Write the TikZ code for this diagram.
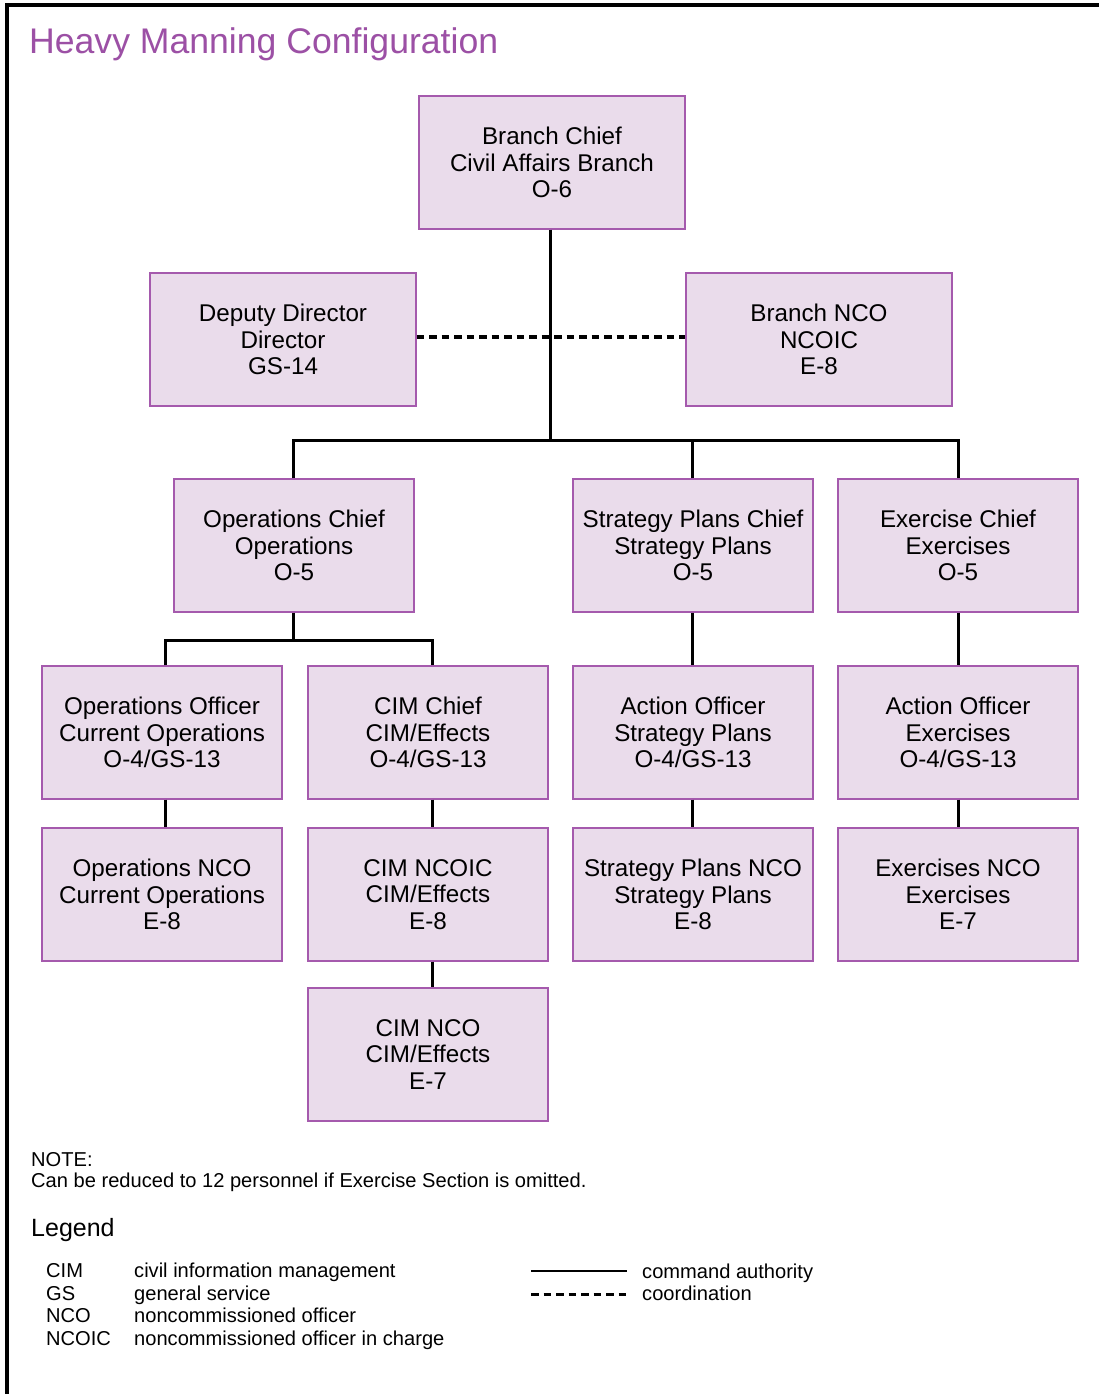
\documentclass[tikz,border=0pt]{standalone}
\usepackage{fontspec}
\setmainfont{Liberation Sans}
\definecolor{boxfill}{HTML}{EADCEB}
\definecolor{boxline}{HTML}{A55AAD}
\definecolor{titlecol}{HTML}{9C50A5}
\begin{document}
\begin{tikzpicture}[x=1pt,y=-1pt,
  orgbox/.style={draw=boxline, fill=boxfill, line width=1.3pt, minimum height=133pt,
    inner sep=0pt, align=center, font=\fontsize{24.2}{26.5}\selectfont},
  widebox/.style={orgbox, minimum width=266pt},
  stdbox/.style={orgbox, minimum width=240pt},
  cmd/.style={line width=3pt},
  coord/.style={line width=3.3pt, dash pattern=on 7.5pt off 5pt},
  txt/.style={anchor=base west, inner sep=0pt, font=\fontsize{20.1}{24}\selectfont}]
\useasboundingbox (0,0) rectangle (1099,1394);
\fill[white] (0,0) rectangle (1099,1394);
% frame
\draw[line width=3.5pt] (7,1394) -- (7,5) -- (1099,5);
% title
\node[anchor=base west, inner sep=0pt, text=titlecol, font=\fontsize{35.6}{40}\selectfont] (title) at (29,53.5) {Heavy Manning Configuration};
% boxes
\node[widebox] (bc) at (552,162.5) {Branch Chief\\Civil Affairs Branch\\O-6};
\node[widebox] (dd) at (283,339.5) {Deputy Director\\Director\\GS-14};
\node[widebox] (bn) at (819,339.5) {Branch NCO\\NCOIC\\E-8};
\node[stdbox] (oc) at (294,545.5) {Operations Chief\\Operations\\O-5};
\node[stdbox] (sc) at (693,545.5) {Strategy Plans Chief\\Strategy Plans\\O-5};
\node[stdbox] (ec) at (958,545.5) {Exercise Chief\\Exercises\\O-5};
\node[stdbox] (oo) at (162,732.5) {Operations Officer\\Current Operations\\O-4/GS-13};
\node[stdbox] (cc) at (428,732.5) {CIM Chief\\CIM/Effects\\O-4/GS-13};
\node[stdbox] (as) at (693,732.5) {Action Officer\\Strategy Plans\\O-4/GS-13};
\node[stdbox] (ae) at (958,732.5) {Action Officer\\Exercises\\O-4/GS-13};
\node[stdbox] (on) at (162,894.5) {Operations NCO\\Current Operations\\E-8};
\node[stdbox] (ci) at (428,894.5) {CIM NCOIC\\CIM/Effects\\E-8};
\node[stdbox] (sn) at (693,894.5) {Strategy Plans NCO\\Strategy Plans\\E-8};
\node[stdbox] (en) at (958,894.5) {Exercises NCO\\Exercises\\E-7};
\node[stdbox] (cn) at (428,1054.5) {CIM NCO\\CIM/Effects\\E-7};
% connectors
\coordinate (bus) at (0,440);
\coordinate (obus) at (0,640);
\draw[coord] ([yshift=2.5pt]dd.east) -- ([yshift=2.5pt]bn.west);
\draw[cmd] ([xshift=-2pt]bc.south) -- ([xshift=-2pt]bc.south |- bus);
\draw[cmd] ([xshift=-1pt]oc.north) |- (ec.north |- bus) -- (ec.north);
\draw[cmd] ([xshift=-1pt]sc.north) -- ([xshift=-1pt]sc.north |- bus);
\draw[cmd] ([xshift=-1pt]oc.south) -- ([xshift=-1pt]oc.south |- obus);
\draw[cmd] ([xshift=3pt]oo.north) |- ([xshift=4pt]cc.north |- obus) -- ([xshift=4pt]cc.north);
\draw[cmd] ([xshift=-1pt]sc.south) -- ([xshift=-1pt]as.north);
\draw[cmd] (ec.south) -- (ae.north);
\draw[cmd] ([xshift=3pt]oo.south) -- ([xshift=3pt]on.north);
\draw[cmd] ([xshift=4pt]cc.south) -- ([xshift=4pt]ci.north);
\draw[cmd] ([xshift=-1pt]as.south) -- ([xshift=-1pt]sn.north);
\draw[cmd] (ae.south) -- (en.north);
\draw[cmd] ([xshift=4pt]ci.south) -- ([xshift=4pt]cn.north);
% note
\node[txt] (note) at (31,1166.5) {NOTE:};
\node[txt] (notetext) at (31,1187.5) {Can be reduced to 12 personnel if Exercise Section is omitted.};
% legend
\node[anchor=base west, inner sep=0pt, font=\fontsize{25}{30}\selectfont] (leg) at (31,1236.5) {Legend};
\node[txt] (a1) at (46,1277) {CIM};
\node[txt] (a2) at (46,1300) {GS};
\node[txt] (a3) at (46,1322.5) {NCO};
\node[txt] (a4) at (46,1345.5) {NCOIC};
\node[txt] (d1) at (134,1277) {civil information management};
\node[txt] (d2) at (134,1300) {general service};
\node[txt] (d3) at (134,1322.5) {noncommissioned officer};
\node[txt] (d4) at (134,1345.5) {noncommissioned officer in charge};
\coordinate (l1a) at (531,1271);
\coordinate (l1b) at (627,1271);
\coordinate (l2a) at (531,1294);
\coordinate (l2b) at (627,1294);
\draw[cmd, line width=2.8pt] (l1a) -- (l1b);
\draw[coord, line width=3pt] (l2a) -- (l2b);
\node[txt] (t1) at (642,1278.5) {command authority};
\node[txt] (t2) at (642,1300.5) {coordination};
\end{tikzpicture}
\end{document}
